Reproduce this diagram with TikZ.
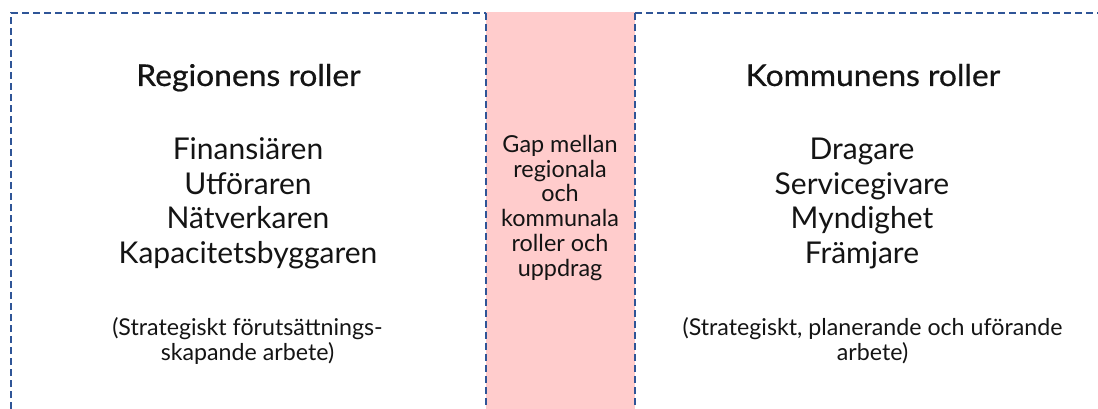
\documentclass[tikz,border=0pt]{standalone}
\usepackage{fontspec}
\setmainfont{Lato}
\newfontfamily\headfont[FakeBold=0.6,FakeStretch=1.06]{Lato}
\definecolor{frameblue}{HTML}{2F5597}
\definecolor{gappink}{HTML}{FFCCCC}
\definecolor{txt}{HTML}{141414}
\begin{document}
\begin{tikzpicture}[x=1pt,y=-1pt,
  framebox/.style={draw=frameblue,line width=1.1pt,dash pattern=on 7pt off 4pt},
  heading/.style={text=txt,anchor=base,inner sep=0pt,font=\headfont\fontsize{30}{36}\selectfont},
  roleline/.style={text=txt,anchor=base,inner sep=0pt,font=\fontsize{30}{36}\selectfont},
  noteline/.style={text=txt,anchor=base,inner sep=0pt,font=\fontsize{23.2}{28}\selectfont},
  gapline/.style={text=txt,anchor=base,inner sep=0pt,font=\fontsize{23.4}{28}\selectfont}]
\useasboundingbox (0,0) rectangle (1098,409);
% three columns
\begin{scope}
\clip (0,0) rectangle (1098,409);
\draw[framebox] (11,420) -- (11,13) -- (486,13);
\draw[framebox] (635,13) -- (1110,13);
\fill[gappink] (486,12) rectangle (635,420);
\draw[framebox] (486,13) -- (486,420);
\draw[framebox] (635,13) -- (635,420);
\end{scope}
% left column: the region
\node[heading] (regh) at (248.5,86) {Regionens roller};
\node[roleline] (reg1) at (248,159.5) {Finansiären};
\node[roleline] (reg2) at (248,194.2) {Utföraren};
\node[roleline] (reg3) at (248,228.8) {Nätverkaren};
\node[roleline] (reg4) at (248,263.5) {Kapacitetsbyggaren};
\node[noteline] (regn1) at (247.5,335) {(Strategiskt förutsättnings-};
\node[noteline] (regn2) at (247.5,360.5) {skapande arbete)};
% middle column: the gap
\node[gapline] (gap1) at (560,152.5) {Gap mellan};
\node[gapline] (gap2) at (560,177.2) {regionala};
\node[gapline] (gap3) at (560,201.9) {och};
\node[gapline] (gap4) at (560,226.6) {kommunala};
\node[gapline] (gap5) at (560,251.3) {roller och};
\node[gapline] (gap6) at (560,276) {uppdrag};
% right column: the municipality
\node[heading] (komh) at (873,86) {Kommunens roller};
\node[roleline] (kom1) at (862,159.5) {Dragare};
\node[roleline] (kom2) at (862,194.2) {Servicegivare};
\node[roleline] (kom3) at (862,228.8) {Myndighet};
\node[roleline] (kom4) at (862,263.5) {Främjare};
\node[noteline] (komn1) at (872.5,335) {(Strategiskt, planerande och uförande};
\node[noteline] (komn2) at (872.5,360.5) {arbete)};
\end{tikzpicture}
\end{document}
